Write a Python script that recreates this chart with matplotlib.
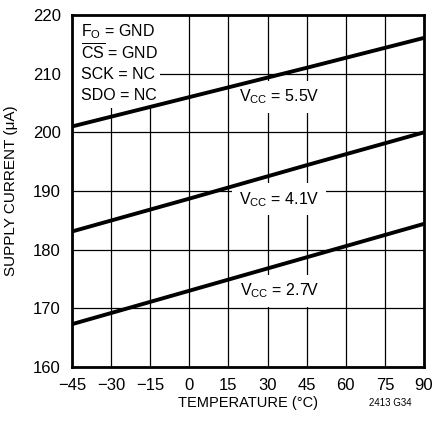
import matplotlib
matplotlib.use("Agg")
import matplotlib.pyplot as plt
from matplotlib.patches import Rectangle

plt.rcParams['font.family'] = ['Liberation Sans', 'DejaVu Sans']
plt.rcParams['mathtext.fontset'] = 'custom'
plt.rcParams['mathtext.rm'] = 'Liberation Sans'
plt.rcParams['mathtext.it'] = 'Liberation Sans'
plt.rcParams['mathtext.bf'] = 'Liberation Sans'

# data
temp = [-45, 0, 45, 90]
vcc55 = [201.0, 206.0, 211.0, 216.1]
vcc41 = [183.1, 188.7, 194.4, 200.0]
vcc27 = [167.3, 173.0, 178.7, 184.4]

xticks = [-45, -30, -15, 0, 15, 30, 45, 60, 75, 90]
yticks = [160, 170, 180, 190, 200, 210, 220]

fig = plt.figure(figsize=(4.35, 4.21), dpi=100)
ax = fig.add_axes([72/435, 1-367/421, 352/435, 352/421])

ax.set_xlim(-45, 90)
ax.set_ylim(160, 220)
ax.set_xticks(xticks)
ax.set_yticks(yticks)
ax.set_xticklabels([str(t).replace('-', '\u2212') for t in xticks])
ax.tick_params(length=0, labelsize=12)
ax.tick_params(axis='x', pad=8)
ax.tick_params(axis='y', pad=8)
ax.grid(True, color='black', lw=0.9, zorder=0)
ax.set_axisbelow(True)
for s in ax.spines.values():
    s.set_linewidth(2)
    s.set_zorder(6)

for vals in (vcc55, vcc41, vcc27):
    ax.plot(temp, vals, color='black', lw=2.8, zorder=5, solid_capstyle='butt')

box = dict(facecolor='white', edgecolor='none', pad=5)
ax.text(34.4, 206.0, r'V$_\mathrm{CC}$ = 5.5V', ha='center', va='center', fontsize=11.5, bbox=box, zorder=4)
ax.text(34.4, 188.6, r'V$_\mathrm{CC}$ = 4.1V', ha='center', va='center', fontsize=11.5, bbox=box, zorder=4)
ax.text(34.4, 173.0, r'V$_\mathrm{CC}$ = 2.7V', ha='center', va='center', fontsize=11.5, bbox=box, zorder=4)

# white block behind the condition text
ax.add_patch(Rectangle((-45, 204.1), 33.8, 15.9, facecolor='white', edgecolor='none', zorder=2))
ax.text(-41.6, 217.1, r'F$_\mathrm{O}$ = GND', ha='left', va='center', fontsize=11.5, zorder=4)
ax.text(-41.6, 213.6, r'$\overline{\mathrm{CS}}$ = GND', ha='left', va='center', fontsize=11.5, zorder=4)
ax.text(-41.6, 209.8, 'SCK = NC', ha='left', va='center', fontsize=11.5, zorder=4)
ax.text(-41.6, 206.3, 'SDO = NC', ha='left', va='center', fontsize=11.5, zorder=4)

ax.set_xlabel('TEMPERATURE (\u00b0C)', fontsize=10.5, labelpad=2)
ax.set_ylabel('SUPPLY CURRENT (\u03bcA)', fontsize=11, labelpad=11)
fig.text(412/435, 1-403/421, '2413 G34', ha='right', va='center', fontsize=7)

fig.savefig('out.png', dpi=100)
